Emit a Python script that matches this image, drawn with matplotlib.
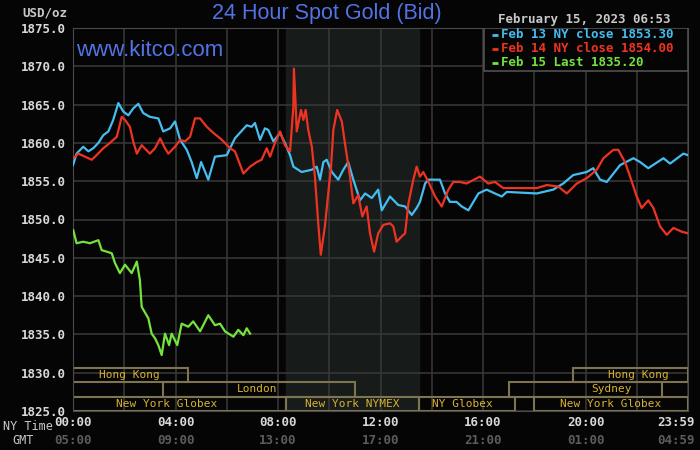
#!/usr/bin/env python3
"""Recreate the Kitco 24 hour spot gold chart."""

import matplotlib

matplotlib.use("Agg")
import matplotlib.pyplot as plt
from matplotlib.patches import Rectangle
from matplotlib.transforms import blended_transform_factory

# --- data (hours since 00:00 NY time, USD/oz) ---
feb13_hours = [0.00, 0.14, 0.40, 0.60, 0.79, 0.99, 1.18, 1.38, 1.57, 1.77, 1.96, 2.16, 2.35, 2.55,
               2.74, 3.00, 3.33, 3.52, 3.79, 3.98, 4.18, 4.44, 4.63, 4.83, 5.00, 5.28, 5.54, 6.00,
               6.13, 6.32, 6.78, 6.97, 7.10, 7.30, 7.49, 7.62, 7.82, 8.08, 8.27, 8.47, 8.60, 8.92,
               9.32, 9.51, 9.64, 9.77, 9.90, 10.10, 10.35, 10.55, 10.74, 10.94, 11.20, 11.40,
               11.66, 11.91, 12.05, 12.37, 12.69, 12.96, 13.22, 13.41, 13.54, 13.74, 13.87, 14.32,
               14.52, 14.71, 14.97, 15.17, 15.43, 15.82, 16.14, 16.73, 16.93, 18.10, 18.74, 19.13,
               19.52, 20.05, 20.30, 20.57, 20.83, 21.35, 21.87, 22.13, 22.45, 23.04, 23.30, 23.82,
               24.00]
feb13_price = [1857.1, 1858.6, 1859.5, 1858.9, 1859.3, 1860.0, 1861.0, 1861.5, 1863.0, 1865.2,
               1864.1, 1863.6, 1864.5, 1865.1, 1863.9, 1863.4, 1863.2, 1861.5, 1861.9, 1862.8,
               1860.4, 1859.1, 1857.5, 1855.4, 1857.5, 1855.2, 1858.2, 1858.4, 1859.3, 1860.6,
               1862.3, 1862.1, 1862.6, 1860.4, 1861.9, 1861.7, 1860.2, 1861.3, 1860.0, 1858.4,
               1856.9, 1856.2, 1856.5, 1856.9, 1855.2, 1857.5, 1857.8, 1856.2, 1855.2, 1856.5,
               1857.5, 1855.2, 1852.5, 1853.4, 1852.8, 1853.9, 1851.2, 1853.0, 1851.9, 1851.7,
               1850.6, 1851.5, 1852.3, 1854.7, 1855.2, 1855.2, 1853.4, 1852.3, 1852.3, 1851.7,
               1851.2, 1853.4, 1853.9, 1853.0, 1853.6, 1853.4, 1853.9, 1854.7, 1855.8, 1856.2,
               1856.7, 1855.2, 1854.9, 1857.1, 1858.0, 1857.5, 1856.7, 1858.0, 1857.3, 1858.6,
               1858.4]

feb14_hours = [0.01, 0.21, 0.47, 0.73, 0.92, 1.18, 1.44, 1.71, 1.90, 2.03, 2.22, 2.35, 2.49, 2.68,
               3.00, 3.20, 3.40, 3.59, 3.72, 3.98, 4.18, 4.37, 4.57, 4.76, 4.96, 5.22, 5.48, 5.74,
               5.93, 6.13, 6.32, 6.65, 6.91, 7.17, 7.36, 7.56, 7.69, 7.88, 8.08, 8.27, 8.47, 8.60,
               8.62, 8.69, 8.73, 8.90, 8.99, 9.08, 9.18, 9.32, 9.44, 9.57, 9.67, 9.83, 9.96, 10.07,
               10.16, 10.31, 10.49, 10.61, 10.81, 10.94, 11.13, 11.29, 11.46, 11.59, 11.75, 11.91,
               12.11, 12.37, 12.50, 12.63, 12.83, 12.96, 13.09, 13.28, 13.41, 13.54, 13.67, 13.87,
               14.13, 14.39, 14.65, 14.84, 15.10, 15.36, 15.88, 16.20, 16.47, 16.79, 17.18, 18.10,
               18.49, 18.94, 19.27, 19.66, 20.05, 20.44, 20.70, 21.09, 21.28, 21.54, 21.74, 22.00,
               22.19, 22.45, 22.65, 22.91, 23.17, 23.43, 23.76, 24.00]
feb14_price = [1858.0, 1858.6, 1858.2, 1857.8, 1858.4, 1859.3, 1860.0, 1860.8, 1863.4, 1863.0,
               1862.1, 1860.2, 1858.6, 1859.7, 1858.6, 1859.3, 1860.6, 1859.3, 1858.6, 1859.5,
               1860.4, 1860.2, 1860.8, 1863.2, 1863.2, 1862.1, 1861.3, 1860.6, 1860.0, 1859.3,
               1858.9, 1856.0, 1856.9, 1857.5, 1857.8, 1859.3, 1858.2, 1860.0, 1861.5, 1859.7,
               1858.9, 1864.7, 1869.7, 1864.9, 1861.5, 1864.3, 1863.0, 1864.3, 1861.7, 1859.5,
               1855.6, 1849.5, 1845.4, 1849.1, 1853.4, 1856.9, 1861.7, 1864.3, 1862.8, 1860.0,
               1855.6, 1852.1, 1853.2, 1850.4, 1851.7, 1848.2, 1845.8, 1848.2, 1849.3, 1849.5,
               1849.1, 1847.1, 1847.8, 1848.2, 1852.1, 1855.2, 1856.9, 1855.6, 1856.2, 1854.9,
               1853.0, 1851.7, 1853.9, 1854.9, 1854.9, 1854.7, 1855.6, 1854.7, 1854.9, 1854.1,
               1854.1, 1854.1, 1854.5, 1854.3, 1853.4, 1854.7, 1855.4, 1856.5, 1858.0, 1859.1,
               1859.1, 1857.5, 1855.6, 1853.0, 1851.5, 1852.5, 1851.5, 1849.1, 1848.0, 1848.9,
               1848.4, 1848.2]

feb15_hours = [0.01, 0.14, 0.40, 0.66, 0.99, 1.12, 1.51, 1.64, 1.83, 2.03, 2.29, 2.49, 2.61, 2.68,
               2.94, 3.07, 3.20, 3.33, 3.46, 3.59, 3.75, 3.85, 4.07, 4.24, 4.50, 4.69, 4.96, 5.28,
               5.54, 5.74, 5.93, 6.26, 6.45, 6.65, 6.78, 6.91]
feb15_price = [1848.6, 1846.9, 1847.1, 1846.9, 1847.3, 1846.0, 1845.6, 1844.3, 1843.0, 1844.1,
               1843.0, 1844.5, 1842.1, 1838.6, 1837.1, 1835.1, 1834.5, 1833.6, 1832.3, 1835.1,
               1833.6, 1835.1, 1833.6, 1836.4, 1836.0, 1836.7, 1835.4, 1837.5, 1836.2, 1836.4,
               1835.4, 1834.7, 1835.6, 1834.9, 1835.8, 1835.1]

legend_labels = ["Feb 13 NY close 1853.30", "Feb 14 NY close 1854.00", "Feb 15 Last 1835.20"]

ny_ticks = [0, 4, 8, 12, 16, 20]
ny_labels = ["00:00", "04:00", "08:00", "12:00", "16:00", "20:00"]
gmt_labels = ["05:00", "09:00", "13:00", "17:00", "21:00", "01:00"]

# market sessions: (row, start, end, label, label centre)
sessions = [
    (0, 0.0, 4.5, "Hong Kong", 2.2),
    (0, 19.5, 24.0, "Hong Kong", 22.05),
    (1, 3.5, 11.0, "London", 7.17),
    (1, 17.0, 23.0, "Sydney", 21.0),
    (2, 0.0, 8.33, "New York Globex", 3.66),
    (2, 8.33, 13.5, "New York NYMEX", 10.9),
    (2, 13.5, 17.25, "NY Globex", 15.2),
    (2, 18.0, 24.0, "New York Globex", 20.98),
]
nymex_hours = (8.33, 13.5)

BG = "#050505"
BLUE = "#45bdf0"
RED = "#ee3322"
GREEN = "#74e43c"
GRID = "#363636"
MONO = "DejaVu Sans Mono"

fig = plt.figure(figsize=(7, 4.5), dpi=100, facecolor=BG)
ax = fig.add_axes([73 / 700, 39 / 450, 615 / 700, 383 / 450], facecolor=BG)

ax.set_xlim(0, 24)
ax.set_ylim(1825, 1875)
ax.axvspan(*nymex_hours, color="#171b19", zorder=0)

ax.set_xticks(range(0, 25, 2))
ax.set_yticks(range(1825, 1876, 5))
ax.grid(True, color=GRID, linewidth=1.2, zorder=1)
ax.tick_params(length=0, labelbottom=False, colors="#d8d8d8", pad=5)
ax.set_yticklabels([f"{v:.1f}" for v in range(1825, 1876, 5)],
                   family=MONO, fontweight="bold", fontsize=9)
for s in ax.spines.values():
    s.set_color("#4a4a4a")

# sessions along the bottom
trans = blended_transform_factory(ax.transData, ax.transAxes)
row_h = 14.5 / 383
for row, start, end, label, cx in sessions:
    y0 = (2 - row) * row_h
    ax.add_patch(Rectangle((start, y0), end - start, row_h, transform=trans,
                           fill=False, edgecolor="#7d7552", linewidth=1.5, zorder=2))
    ax.text(cx, y0 + row_h / 2, label, transform=trans, ha="center", va="center",
            family=MONO, fontsize=8, color="#d9b232", zorder=3)

ax.plot(feb13_hours, feb13_price, color=BLUE, linewidth=1.6, zorder=4)
ax.plot(feb14_hours, feb14_price, color=RED, linewidth=1.6, zorder=5)
ax.plot(feb15_hours, feb15_price, color=GREEN, linewidth=1.6, zorder=6)

# legend box
lx0 = (484 - 73) / 615
ly0 = 1 - (70.7 - 28) / 383
ax.add_patch(Rectangle((lx0, ly0), 1 - lx0, 1 - ly0, transform=ax.transAxes,
                       facecolor=BG, edgecolor="#505050", linewidth=1.2, zorder=7))
for i, (label, col) in enumerate(zip(legend_labels, [BLUE, RED, GREEN])):
    ty = 1 - (35 + i * 13.8 - 28) / 383
    ax.plot([lx0 + 8 / 615, lx0 + 14 / 615], [ty, ty], transform=ax.transAxes,
            color=col, linewidth=2, solid_capstyle="butt", zorder=8)
    ax.text(lx0 + 17 / 615, ty, label, transform=ax.transAxes, ha="left", va="center",
            family=MONO, fontweight="bold", fontsize=9, color=col, zorder=8)

# x labels (NY time + GMT)
for h, ny, gmt in zip(ny_ticks, ny_labels, gmt_labels):
    ax.text(h, -12 / 383, ny, transform=trans, ha="center", va="center", family=MONO,
            fontweight="bold", fontsize=9, color="#d8d8d8", clip_on=False)
    ax.text(h, -29 / 383, gmt, transform=trans, ha="center", va="center", family=MONO,
            fontweight="bold", fontsize=9, color="#5c5c5c", clip_on=False)
ax.text(24.27, -12 / 383, "23:59", transform=trans, ha="right", va="center", family=MONO,
        fontweight="bold", fontsize=9, color="#d8d8d8", clip_on=False)
ax.text(24.27, -29 / 383, "04:59", transform=trans, ha="right", va="center", family=MONO,
        fontweight="bold", fontsize=9, color="#5c5c5c", clip_on=False)

fig.text(3 / 700, 1 - 426 / 450, "NY Time", ha="left", va="center", family=MONO,
         fontsize=8.5, color="#c8c8c8")
fig.text(12 / 700, 1 - 440 / 450, "GMT", ha="left", va="center", family=MONO,
         fontsize=8.5, color="#c8c8c8")
fig.text(22 / 700, 1 - 13 / 450, "USD/oz", ha="left", va="center", family=MONO,
         fontweight="bold", fontsize=9, color="#c8c8c8")

fig.text(327 / 700, 1 - 13 / 450, "24 Hour Spot Gold (Bid)", ha="center", va="center",
         family="Liberation Sans", fontsize=15.5, color="#5273e6")
fig.text(76 / 700, 1 - 51 / 450, "www.kitco.com", ha="left", va="center",
         family="Liberation Sans", fontsize=16, color="#5273e6")
fig.text(498 / 700, 1 - 19 / 450, "February 15, 2023 06:53", ha="left", va="center",
         family=MONO, fontweight="bold", fontsize=9, color="#c8c8c8")

fig.savefig("out.png", dpi=100, facecolor=BG)
